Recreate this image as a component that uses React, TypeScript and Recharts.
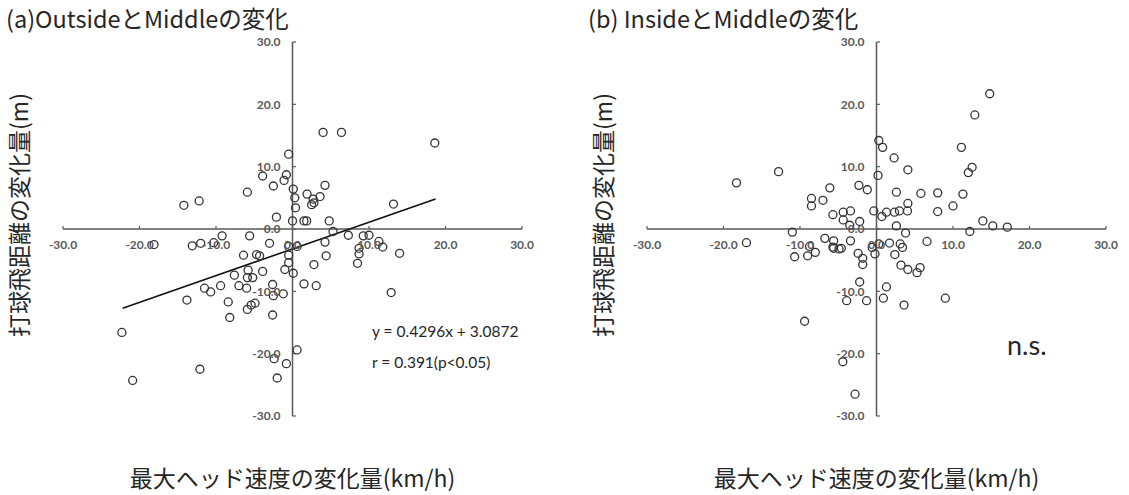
import React from 'react'
import { ScatterChart, Scatter, XAxis, YAxis, ReferenceLine, ReferenceDot } from 'recharts'

type Pt = { x: number; y: number }

const axisTicks = [-30, -20, -10, 0, 10, 20, 30]

// (a) Outside vs Middle
const outsideX = [
    4.0, 6.4, 18.6, -0.5, -3.9, -0.8, -1.1, -2.5, -5.9, -14.2, -12.2, 0.1, 0.3, 0.4, 1.9, 2.7, 3.6, 4.25, 2.5, 2.8,
    -2.1, 0.0, 1.5, 1.85, 4.8, 5.3, 4.25, -9.2, -5.6, -3.0, -18.1, -13.1, -12.0, -10.3, 0.6, -0.5, -6.4, -4.7, -4.3,
    -0.5, -0.5, 4.4, 2.8, -1.0, 0.1, -3.9, -5.8, -7.6, -5.9, -5.2, -7.0, -9.4, -11.5, -10.7, -6.0, -2.6, 1.5, 3.1,
    -2.5, -1.2, -13.8, -8.4, -4.9, -5.4, -5.9, -2.6, -8.2, -22.3, 0.6, -2.4, -0.8, -2.0, -12.1, -20.9, 7.3, 9.25, 10.0,
    11.3, 11.8, 8.7, 8.7, 8.5, 14.0, 13.2, 12.9,
]
const outsideY = [
    15.5, 15.5, 13.8, 12.0, 8.5, 8.7, 7.8, 6.9, 5.9, 3.8, 4.5, 6.4, 5.0, 3.4, 5.6, 4.8, 5.2, 7.0, 3.9, 4.2,
    1.9, 1.3, 1.3, 1.3, 1.3, -0.4, -2.1, -1.1, -1.1, -2.3, -2.5, -2.7, -2.3, -2.2, -2.8, -2.8, -4.2, -4.1, -4.3,
    -4.2, -5.4, -4.3, -5.7, -6.5, -7.1, -6.8, -6.6, -7.4, -7.8, -7.8, -9.1, -9.1, -9.5, -10.1, -9.5, -8.9, -8.8, -9.1,
    -10.7, -10.4, -11.4, -11.7, -11.9, -12.2, -12.9, -13.8, -14.2, -16.6, -19.4, -20.8, -21.6, -23.9, -22.5, -24.3, -1.0, -1.1, -1.0,
    -2.0, -2.9, -3.1, -4.0, -5.5, -3.9, 4.0, -10.2,
]

// regression line end points as drawn
const fitX = [-22.2, 18.7]
const fitY = [-12.7, 4.8]

// (b) Inside vs Middle
const insideX = [
    14.8, 12.85, 11.1, 12.5, 12.0, 11.3, 10.0, 8.0, 8.0, 5.8, 13.9, 15.2, 17.1, 12.2, 0.3, 0.8, 2.3, 4.1, 0.2, 2.6,
    4.1, 4.05, 3.0, 2.35, 1.3, 0.7, -0.35, 2.6, 3.8, 6.6, -2.3, -1.2, -6.1, -7.0, -5.7, -4.35, -4.35, -3.4, -3.5, -2.2,
    -6.75, -5.6, -3.4, -5.6, -4.6, -2.4, -0.56, 0.3, 1.7, 3.1, 3.4, 2.4, -0.2, -1.8, -1.8, 3.2, 4.1, 5.7, 5.3, -2.2,
    1.3, 0.9, -1.3, -3.9, 3.6, 9.0, -4.4, -9.4, -2.8, -10.7, -9.0, -8.0, -18.3, -12.8, -8.5, -8.5, -11.0, -17.0, -8.75, -5.7,
    -4.9,
]
const insideY = [
    21.7, 18.3, 13.1, 9.9, 9.05, 5.6, 3.7, 5.8, 2.8, 5.7, 1.3, 0.5, 0.3, -0.4, 14.2, 13.1, 11.4, 9.5, 8.6, 5.9,
    4.1, 2.9, 2.9, 2.7, 2.7, 2.0, 2.9, 0.5, -0.65, -2.0, 7.0, 6.3, 6.6, 4.6, 2.3, 2.7, 1.45, 2.9, 0.6, 1.2,
    -1.5, -1.9, -1.9, -3.1, -3.1, -3.9, -2.95, -2.4, -2.25, -2.4, -2.95, -4.1, -4.0, -4.7, -5.7, -5.8, -6.5, -6.2, -7.0, -8.5,
    -9.3, -11.1, -11.5, -11.5, -12.2, -11.1, -21.3, -14.8, -26.5, -4.45, -4.3, -3.75, 7.4, 9.2, 4.9, 3.7, -0.5, -2.2, -2.8, -2.9,
    -3.2,
]

const toPoints = (xs: number[], ys: number[]): Pt[] => xs.map((x, i) => ({ x, y: ys[i] }))

const AXIS = '#595959'
const TEXT = '#262626'
const FONT = '"Noto Sans CJK JP", "Noto Sans", sans-serif'

function Ring(props: any) {
    const { cx, cy } = props
    if (cx == null || cy == null) return null
    return <circle cx={cx} cy={cy} r={4} fill="none" stroke="#333" strokeWidth={1.3} />
}

function Panel({ data, fit }: { data: Pt[]; fit?: Pt[] }) {
    return (
        <ScatterChart width={545} height={495} margin={{ top: 42, right: 23, bottom: 0, left: 0 }}>
            <XAxis
                type="number"
                dataKey="x"
                domain={[-30, 30]}
                ticks={axisTicks}
                tick={false}
                axisLine={false}
                tickLine={false}
                height={79}
                label={{
                    value: '最大ヘッド速度の変化量(km/h)',
                    position: 'insideBottom',
                    offset: 8,
                    fontSize: 23,
                    fill: TEXT,
                    fontFamily: FONT,
                }}
            />
            <YAxis
                type="number"
                dataKey="y"
                domain={[-30, 30]}
                ticks={axisTicks}
                tick={false}
                axisLine={false}
                tickLine={false}
                width={63}
                label={{
                    value: '打球飛距離の変化量(m)',
                    angle: -90,
                    position: 'insideLeft',
                    offset: 20,
                    dy: -14,
                    fontSize: 23,
                    fill: TEXT,
                    fontFamily: FONT,
                    style: { textAnchor: 'middle' },
                }}
            />
            <ReferenceLine y={0} stroke={AXIS} strokeWidth={1.5} />
            <ReferenceLine x={0} stroke={AXIS} strokeWidth={1.5} />
            {axisTicks.map((t) => (
                <ReferenceLine
                    key={`xt${t}`}
                    segment={[
                        { x: t, y: 0 },
                        { x: t, y: 0.5 },
                    ]}
                    stroke={AXIS}
                    strokeWidth={1.2}
                />
            ))}
            {axisTicks.map((t) => (
                <ReferenceLine
                    key={`yt${t}`}
                    segment={[
                        { x: 0, y: t },
                        { x: 0.45, y: t },
                    ]}
                    stroke={AXIS}
                    strokeWidth={1.2}
                />
            ))}
            {axisTicks.map((t) => (
                <ReferenceDot
                    key={`xl${t}`}
                    x={t}
                    y={0}
                    r={0}
                    stroke="none"
                    fill="none"
                    label={{ value: t.toFixed(1), position: 'bottom', offset: 11, fontSize: 12, fill: AXIS, fontFamily: 'Lato, sans-serif', fontWeight: 700 }}
                />
            ))}
            {axisTicks.map((t) => (
                <ReferenceDot
                    key={`yl${t}`}
                    x={0}
                    y={t}
                    r={0}
                    stroke="none"
                    fill="none"
                    label={{ value: t.toFixed(1), position: 'left', offset: 12, fontSize: 12, fill: AXIS, fontFamily: 'Lato, sans-serif', fontWeight: 700 }}
                />
            ))}
            <Scatter data={data} shape={Ring} isAnimationActive={false} />
            {fit && <ReferenceLine segment={fit} stroke="#111" strokeWidth={1.6} />}
        </ScatterChart>
    )
}

export default function App() {
    const outside = toPoints(outsideX, outsideY)
    const inside = toPoints(insideX, insideY)
    const fit = toPoints(fitX, fitY)

    return (
        <div style={{ position: 'absolute', left: 0, top: 0, width: 1129, height: 495, background: '#fff', fontFamily: FONT, color: TEXT }}>
            <div style={{ position: 'absolute', left: 0, top: 0 }}>
                <Panel data={outside} fit={fit} />
            </div>
            <div style={{ position: 'absolute', left: 584, top: 0 }}>
                <Panel data={inside} />
            </div>
            <div style={{ position: 'absolute', left: 6, top: 6, fontSize: 23.5, lineHeight: '24px', whiteSpace: 'nowrap' }}>
                (a)OutsideとMiddleの変化
            </div>
            <div style={{ position: 'absolute', left: 588, top: 6, fontSize: 23.5, lineHeight: '24px', whiteSpace: 'nowrap' }}>
                (b) InsideとMiddleの変化
            </div>
            <div style={{ position: 'absolute', left: 372, top: 316, fontSize: 15.5, lineHeight: '31px', fontFamily: 'Lato, sans-serif' }}>
                <div>y = 0.4296x + 3.0872</div>
                <div>r = 0.391(p&lt;0.05)</div>
            </div>
            <div style={{ position: 'absolute', left: 1007, top: 328, fontSize: 27, lineHeight: '34px', fontFamily: 'Lato, sans-serif' }}>
                n.s.
            </div>
        </div>
    )
}
